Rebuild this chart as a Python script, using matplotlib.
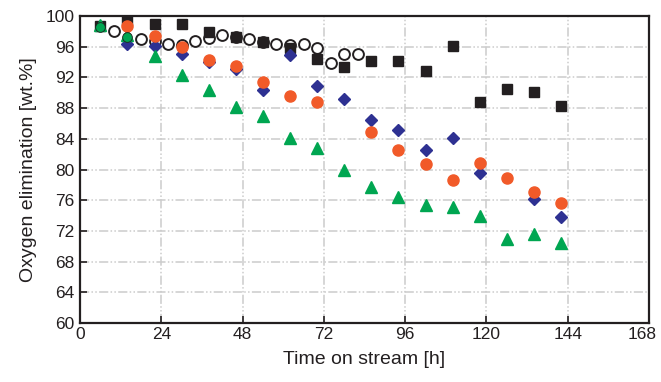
import matplotlib
matplotlib.use("Agg")
import matplotlib.pyplot as plt
from matplotlib.transforms import ScaledTranslation

plt.rcParams['font.family'] = ['Liberation Sans', 'DejaVu Sans']

# hours on stream for each series
t_square = [6, 14, 22, 30, 38, 46, 54, 62, 70, 78, 86, 94, 102, 110, 118, 126, 134, 142]
y_square = [98.7, 99.5, 99.0, 98.9, 97.9, 97.3, 96.6, 95.9, 94.4, 93.4, 94.1, 94.2, 92.9, 96.1, 88.8, 90.5, 90.1, 88.3]

t_open = [10, 18, 22, 26, 30, 34, 38, 42, 46, 50, 54, 58, 62, 66, 70, 74, 78, 82]
y_open = [98.0, 97.0, 96.7, 96.4, 96.2, 96.7, 97.2, 97.5, 97.3, 97.0, 96.6, 96.4, 96.2, 96.35, 95.9, 93.9, 95.1, 95.1]

t_diamond = [14, 22, 30, 38, 46, 54, 62, 70, 78, 86, 94, 102, 110, 118, 134, 142]
y_diamond = [96.4, 96.1, 95.1, 94.0, 93.1, 90.4, 94.9, 90.9, 89.2, 86.5, 85.2, 82.6, 84.1, 79.6, 76.2, 73.8]

t_orange = [14, 22, 30, 38, 46, 54, 62, 70, 86, 94, 102, 110, 118, 126, 134, 142]
y_orange = [98.7, 97.4, 96.0, 94.3, 93.5, 91.4, 89.6, 88.8, 84.9, 82.5, 80.7, 78.6, 80.8, 78.9, 77.1, 75.7]

t_tri = [6, 14, 22, 30, 38, 46, 54, 62, 70, 78, 86, 94, 102, 110, 118, 126, 134, 142]
y_tri = [98.8, 97.5, 94.8, 92.3, 90.4, 88.1, 87.0, 84.1, 82.8, 80.0, 77.7, 76.4, 75.4, 75.1, 73.9, 71.0, 71.6, 70.5]

t_gcircle = [6, 14]
y_gcircle = [98.6, 97.3]

xticks = [0, 24, 48, 72, 96, 120, 144, 168]
yticks = [60, 64, 68, 72, 76, 80, 84, 88, 92, 96, 100]

dark = '#231f20'

fig = plt.figure(figsize=(6.61, 3.82), dpi=100)
ax = fig.add_axes([0.121, 0.154, 0.861, 0.804])

ax.plot(t_open, y_open, 'o', ms=7.8, mfc='white', mec=dark, mew=1.4, ls='none', zorder=3)
ax.plot(t_square, y_square, 's', ms=7, color=dark, ls='none', zorder=4)
ax.plot(t_diamond, y_diamond, 'D', ms=6, color='#2e3192', ls='none', zorder=5)
ax.plot(t_orange, y_orange, 'o', ms=8, color='#f15a29', ls='none', zorder=6)
ax.plot(t_tri, y_tri, '^', ms=8.5, color='#00a651', ls='none', zorder=5)
ax.plot(t_gcircle, y_gcircle, 'o', ms=7, color='#00a651', mec=dark, mew=0.6, ls='none', zorder=7)

ax.set_xlim(0, 168)
ax.set_ylim(60, 100)
ax.set_xticks(xticks)
ax.set_yticks(yticks)
ax.tick_params(direction='in', length=5, width=1.2, colors=dark, labelsize=12.5, pad=3)
ax.tick_params(axis='y', pad=4)
ax.grid(True, color='#cccccc', lw=1.1, dashes=(6, 1.5, 1, 1.5, 1, 1.5))
ax.set_axisbelow(True)

# last x label sits at the figure edge, nudge it in a bit
last = ax.get_xticklabels()[-1]
last.set_transform(last.get_transform() + ScaledTranslation(-5 / 72, 0, fig.dpi_scale_trans))

for side in ['left', 'bottom', 'top', 'right']:
    ax.spines[side].set_linewidth(1.6)
    ax.spines[side].set_color(dark)

ax.set_xlabel('Time on stream [h]', fontsize=14, color=dark, labelpad=6)
ax.set_ylabel('Oxygen elimination [wt.%]', fontsize=14, color=dark, labelpad=6)

fig.savefig('out.png', dpi=100)
